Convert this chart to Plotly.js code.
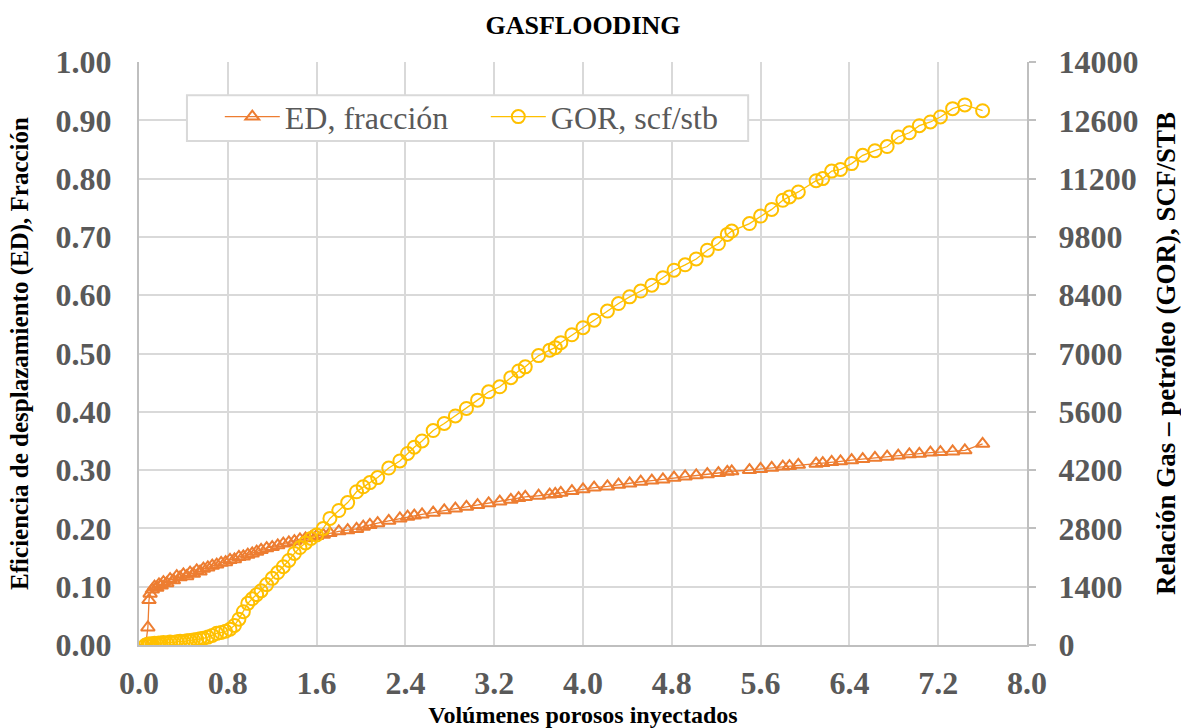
<!DOCTYPE html>
<html>
<head>
<meta charset="utf-8">
<script src="https://cdn.plot.ly/plotly-3.0.1.min.js"></script>
<style>html,body{margin:0;padding:0;background:#fff;}#chart{width:1181px;height:728px;}</style>
</head>
<body>
<div id="chart"></div>
<script>
// Pore volumes injected (shared x for both series)
const pvInjected = [0.06,0.08,0.09,0.10,0.12,0.14,0.16,0.18,0.20,0.22,0.25,0.28,0.31,0.34,0.37,0.40,0.43,0.46,0.49,0.52,0.55,0.58,0.62,0.66,0.70,0.74,0.78,0.82,0.86,0.90,0.94,0.98,1.02,1.06,1.10,1.15,1.20,1.25,1.30,1.35,1.40,1.45,1.50,1.55,1.60,1.66,1.72,1.80,1.88,1.96,2.02,2.08,2.15,2.25,2.35,2.42,2.48,2.55,2.65,2.75,2.85,2.95,3.05,3.15,3.25,3.35,3.42,3.48,3.60,3.70,3.75,3.80,3.90,4.00,4.10,4.22,4.32,4.42,4.52,4.62,4.72,4.82,4.92,5.02,5.12,5.22,5.30,5.34,5.50,5.60,5.70,5.80,5.86,5.94,6.10,6.16,6.24,6.32,6.42,6.52,6.63,6.74,6.84,6.94,7.03,7.13,7.22,7.33,7.44,7.60];

// Displacement efficiency, fraction
const edFraction = [0.0,0.03,0.077,0.088,0.095,0.100,0.098,0.104,0.102,0.108,0.106,0.113,0.111,0.118,0.116,0.121,0.118,0.124,0.122,0.128,0.126,0.131,0.133,0.136,0.138,0.141,0.142,0.146,0.147,0.151,0.152,0.155,0.157,0.160,0.163,0.166,0.168,0.171,0.174,0.176,0.178,0.181,0.183,0.185,0.187,0.189,0.192,0.195,0.197,0.199,0.203,0.206,0.209,0.213,0.217,0.220,0.222,0.224,0.227,0.231,0.234,0.237,0.240,0.243,0.246,0.249,0.252,0.254,0.256,0.258,0.259,0.261,0.264,0.267,0.270,0.272,0.275,0.277,0.280,0.282,0.284,0.287,0.289,0.291,0.293,0.295,0.297,0.298,0.300,0.302,0.304,0.306,0.307,0.309,0.311,0.312,0.314,0.315,0.317,0.319,0.321,0.323,0.325,0.327,0.328,0.330,0.331,0.332,0.334,0.345];

// Gas-oil ratio, scf/stb
const gorScfStb = [0,20,10,30,20,40,30,50,40,60,50,70,60,80,90,80,100,110,120,130,150,160,190,230,280,300,330,380,470,620,800,1000,1110,1210,1300,1450,1600,1740,1880,2030,2200,2340,2450,2560,2640,2800,3040,3230,3420,3680,3800,3900,4020,4250,4420,4600,4750,4900,5150,5320,5500,5680,5880,6080,6200,6420,6580,6680,6950,7080,7140,7260,7450,7620,7800,8020,8200,8360,8500,8640,8820,9000,9130,9270,9480,9640,9860,9940,10120,10300,10460,10680,10760,10880,11150,11200,11380,11420,11560,11760,11870,11970,12200,12300,12470,12560,12680,12880,12970,12830];

const seriesNames = ["ED, fracción", "GOR, scf/stb"];
const chartTitle = "GASFLOODING";
const xTitle = "Volúmenes porosos inyectados";
const yTitle = "Eficiencia de desplazamiento (ED), Fracción";
const y2Title = "Relación Gas – petróleo (GOR), SCF/STB";

const serif = "Liberation Serif";
const tickFont = {family: serif, size: 32, color: "#595959", weight: "bold"};

const traces = [
  {
    x: pvInjected, y: edFraction, name: seriesNames[0], type: "scatter", mode: "lines+markers",
    line: {color: "#ED7D31", width: 1.3},
    marker: {symbol: "triangle-up-open", size: 12, color: "#ED7D31", line: {width: 2, color: "#ED7D31"}},
    yaxis: "y"
  },
  {
    x: pvInjected, y: gorScfStb, name: seriesNames[1], type: "scatter", mode: "lines+markers",
    line: {color: "#FFC000", width: 1.3},
    marker: {symbol: "circle-open", size: 13, color: "#FFC000", line: {width: 2, color: "#FFC000"}},
    yaxis: "y2"
  }
];

const layout = {
  width: 1181, height: 728,
  paper_bgcolor: "#ffffff", plot_bgcolor: "#ffffff",
  margin: {l: 139, r: 154, t: 62, b: 83, pad: 0},
  title: {text: chartTitle, font: {family: serif, size: 26, color: "#000", weight: "bold"}, x: 0.5, xref: "paper", y: 1 - 25/728, yref: "container", yanchor: "middle"},
  showlegend: true,
  legend: {
    orientation: "h", x: 0.091, y: 0.906, xanchor: "left", yanchor: "middle",
    bgcolor: "rgba(0,0,0,0)", borderwidth: 0,
    font: {family: serif, size: 32, color: "#595959"},
    itemwidth: 55, entrywidth: 196
  },
  shapes: [
    {type: "rect", xref: "paper", yref: "paper", x0: 0.054, x1: 0.686, y0: 0.8645, y1: 0.943,
     fillcolor: "#ffffff", line: {color: "#D9D9D9", width: 2}, layer: "above"}
  ],
  xaxis: {
    range: [0, 8], dtick: 0.8, tick0: 0, tickformat: ".1f",
    showgrid: true, gridcolor: "#D9D9D9", gridwidth: 2,
    showline: true, linecolor: "#BFBFBF", linewidth: 2,
    zeroline: false, ticks: "", ticklabelstandoff: 9,
    tickfont: tickFont,
    title: {text: xTitle, font: {family: serif, size: 24, color: "#000000", weight: "bold"}, standoff: 18}
  },
  yaxis: {
    range: [0, 1], dtick: 0.1, tick0: 0, tickformat: ".2f",
    showgrid: true, gridcolor: "#D9D9D9", gridwidth: 2,
    showline: true, linecolor: "#BFBFBF", linewidth: 2,
    zeroline: false, ticks: "", ticklabelstandoff: 19,
    tickfont: tickFont,
    title: {text: yTitle, font: {family: serif, size: 25, color: "#000000", weight: "bold"}, standoff: 20}
  },
  yaxis2: {
    range: [0, 14000], dtick: 1400, tick0: 0, tickformat: "d",
    overlaying: "y", side: "right",
    showgrid: false, showline: true, linecolor: "#BFBFBF", linewidth: 2,
    zeroline: false, ticks: "outside", ticklen: 7, tickwidth: 2, tickcolor: "#BFBFBF",
    ticklabelstandoff: 16,
    tickfont: tickFont,
    title: {text: y2Title, font: {family: serif, size: 27, color: "#000000", weight: "bold"}, standoff: 20}
  }
};

Plotly.newPlot("chart", traces, layout, {displayModeBar: false, staticPlot: true});
</script>
</body>
</html>
